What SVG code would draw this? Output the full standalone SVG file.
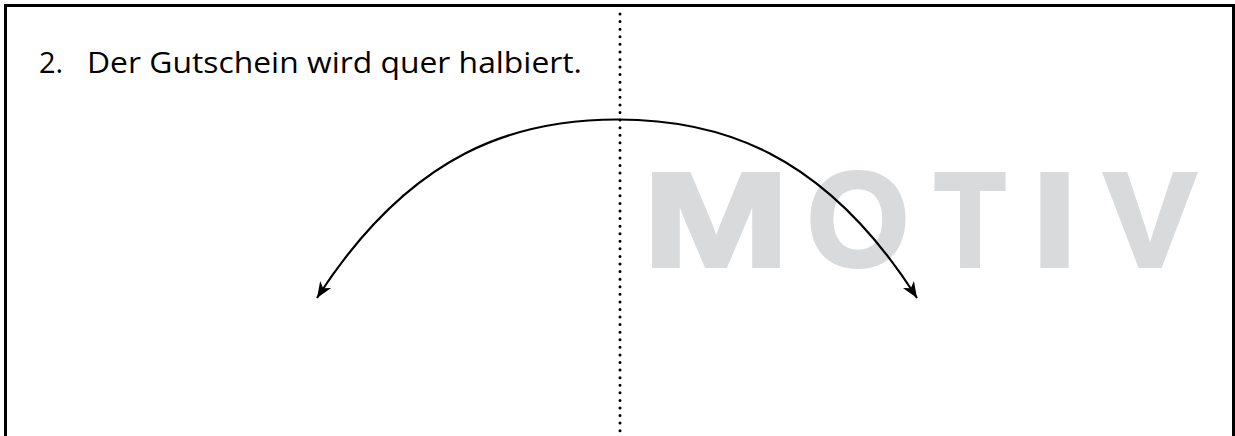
<svg xmlns="http://www.w3.org/2000/svg" width="1235" height="436" viewBox="0 0 1235 436">
  <style>
    .frame { fill: none; stroke: #000; stroke-width: 3; }
    .fold { stroke: #000; stroke-width: 3; stroke-linecap: round; stroke-dasharray: 0 7.576; fill: none; }
    .arc { fill: none; stroke: #000; stroke-width: 2.2; }
    .title { font-family: "Open Sans", "Noto Sans", sans-serif; font-size: 29px; fill: #000; }
    .motiv { font-family: "Liberation Sans", Arial, sans-serif; font-weight: bold; font-size: 134px; fill: #d9dadb; stroke: #d9dadb; stroke-width: 4; stroke-linejoin: miter; }
  </style>
  <defs>
    <marker id="arrow" markerUnits="userSpaceOnUse" viewBox="-17 -8 18 16" markerWidth="18" markerHeight="16" refX="0" refY="0" orient="auto-start-reverse">
      <path d="M0,0 L-16,-6.5 L-11.5,0 L-16,6.5 Z" fill="#000"/>
    </marker>
  </defs>
  <rect width="1235" height="436" fill="#fff"/>

  <g id="motiv">
    <text class="motiv" x="643" y="266" textLength="146" lengthAdjust="spacingAndGlyphs">M</text>
    <text class="motiv" x="807" y="266" textLength="102" lengthAdjust="spacingAndGlyphs">O</text>
    <text class="motiv" x="935" y="266" textLength="70" lengthAdjust="spacingAndGlyphs">T</text>
    <text class="motiv" x="1032" y="266" textLength="45" lengthAdjust="spacingAndGlyphs">I</text>
    <text class="motiv" x="1104" y="266" textLength="92" lengthAdjust="spacingAndGlyphs">V</text>
  </g>

  <g id="frame">
    <path class="frame" d="M5.5,436 V5.5 H1233.5 V436"/>
  </g>

  <g id="fold-line">
    <line class="fold" x1="620" y1="14" x2="620" y2="431"/>
  </g>

  <g id="title">
    <text class="title" x="39" y="73">2.</text>
    <text class="title" x="87" y="73" textLength="495" lengthAdjust="spacingAndGlyphs">Der Gutschein wird quer halbiert.</text>
  </g>

  <g id="connectors">
    <path class="arc" d="M317,298 C412,150 518,119.5 617.5,119.5 C717,119.5 823,150 917,298" marker-start="url(#arrow)" marker-end="url(#arrow)"/>
  </g>
</svg>
